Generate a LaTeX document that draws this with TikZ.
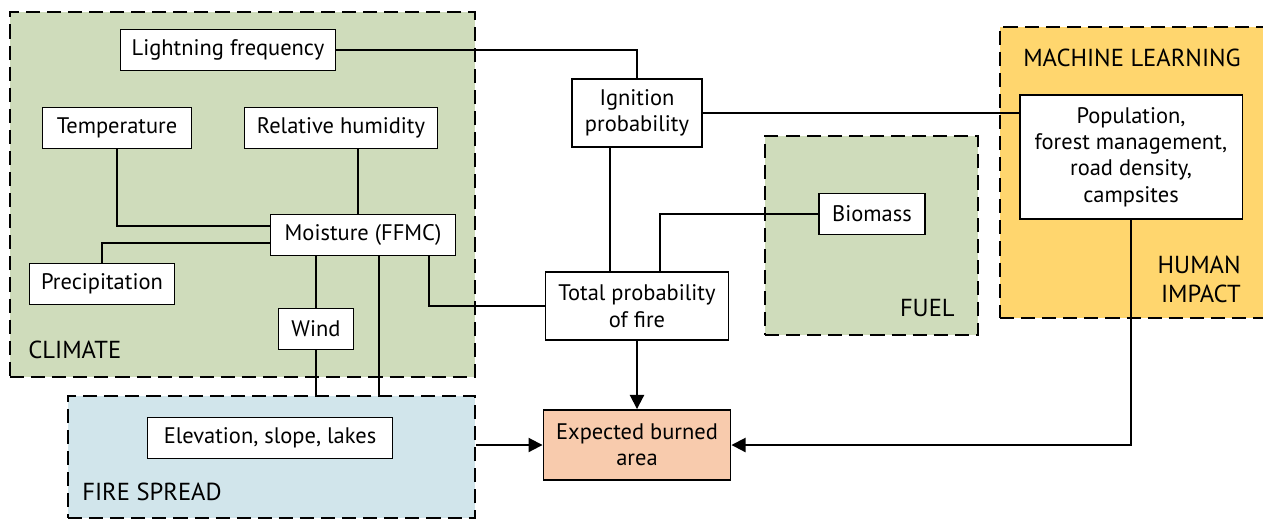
\documentclass[tikz,border=0pt]{standalone}
\usepackage{fontspec}
\setmainfont{PT Sans}
\usepackage{xcolor}
\usetikzlibrary{arrows.meta,positioning,calc}

\definecolor{climategreen}{HTML}{CFDCBB}
\definecolor{spreadblue}{HTML}{D1E5EB}
\definecolor{humanyellow}{HTML}{FFD66E}
\definecolor{burnorange}{HTML}{F8CBAD}

\begin{document}
\begin{tikzpicture}[x=0.02cm, y=-0.02cm,
    box/.style={rectangle, draw, fill=white, line width=1.1pt,
                minimum height=0.82cm, align=center, inner sep=3pt,
                font=\fontsize{12.8}{15}\selectfont},
    group/.style={rectangle, draw, line width=1.1pt, dash pattern=on 8pt off 4pt},
    lbl/.style={font=\fontsize{14}{16.5}\selectfont, inner sep=0pt},
    conn/.style={line width=1.1pt},
    arr/.style={-{Triangle[length=8pt,width=8pt]}, line width=1.1pt},
  ]
  \useasboundingbox (0,0) rectangle (1263,518);

  % Groups
  \node[group, fill=climategreen, minimum width=9.3cm, minimum height=7.3cm] (climate) at (242.5,194.5) {};
  \node[group, fill=spreadblue, minimum width=8.14cm, minimum height=2.44cm] (spread) at (271.5,457) {};
  \node[group, fill=climategreen, minimum width=4.26cm, minimum height=3.98cm] (fuel) at (871.5,235.5) {};
  \node[group, fill=humanyellow, minimum width=5.7cm, minimum height=5.82cm] (human) at (1142.5,172.5) {};

  % Group labels
  \node[lbl, anchor=west] (climatelbl) at (28,350) {CLIMATE};
  \node[lbl, anchor=west] (spreadlbl) at (82,492) {FIRE SPREAD};
  \node[lbl, anchor=east] (fuellbl) at (955,308) {FUEL};
  \node[lbl] (mllbl) at (1132,58) {MACHINE LEARNING};
  \node[lbl, anchor=east, align=right] (humanlbl) at (1241,279) {HUMAN\\IMPACT};

  % Climate
  \node[box, minimum width=4.3cm] (light) at (228,50) {Lightning frequency};
  \node[box, minimum width=2.98cm] (temp) at (117,128) {Temperature};
  \node[box, minimum width=3.86cm] (rh) at (341,128) {Relative humidity};
  \node[box, minimum width=3.7cm] (moist) at (363,235) {Moisture (FFMC)};
  \node[box, minimum width=2.9cm] (precip) at (102,284) {Precipitation};
  \node[box, minimum width=1.5cm] (wind) at (316,329) {Wind};

  % Fire spread
  \node[box, minimum width=4.9cm] (elev) at (270,438) {Elevation, slope, lakes};

  % Probabilities
  \node[box, minimum width=2.6cm, minimum height=1.36cm] (ign) at (637,113) {Ignition\\probability};
  \node[box, minimum width=3.66cm, minimum height=1.36cm] (total) at (637,306) {Total probability\\of fire};
  \node[box, fill=burnorange, minimum width=3.74cm, minimum height=1.4cm] (burned) at (637,445) {Expected burned\\area};

  % Fuel and human impact
  \node[box, minimum width=2.12cm] (bio) at (872,214) {Biomass};
  \node[box, minimum width=4.46cm, minimum height=2.48cm] (pop) at (1131,157) {Population,\\forest management,\\road density,\\campsites};

  % Helper coordinates
  \coordinate (tempy) at (0,226);
  \coordinate (precy) at (0,243);
  \coordinate (rhx) at (358,0);
  \coordinate (slopex) at (379,0);
  \coordinate (totx) at (429,0);
  \coordinate (ignx) at (610,0);
  \coordinate (biox) at (660,0);

  % Connectors
  \draw[conn] (light.east) -| (ign.north);
  \draw[conn] (ign.east) -- (ign.east -| pop.west);
  \draw[conn] (ign.south -| ignx) -- (total.north -| ignx);
  \draw[conn] (bio.west) -| (total.north -| biox);
  \draw[conn] (temp.south) |- (moist.west |- tempy);
  \draw[conn] (moist.west |- precy) -| (precip.north);
  \draw[conn] (rh.south -| rhx) -- (moist.north -| rhx);
  \draw[conn] (moist.south -| wind) -- (wind.north);
  \draw[conn] (wind.south) -- (wind.south |- spread.north);
  \draw[conn] (moist.south -| slopex) -- (spread.north -| slopex);
  \draw[conn] (moist.south -| totx) |- (total.west);
  \draw[arr] (total.south) -- (burned.north);
  \draw[arr] (spread.east |- burned.west) -- (burned.west);
  \draw[arr] (pop.south) |- (burned.east);

\end{tikzpicture}
\end{document}
